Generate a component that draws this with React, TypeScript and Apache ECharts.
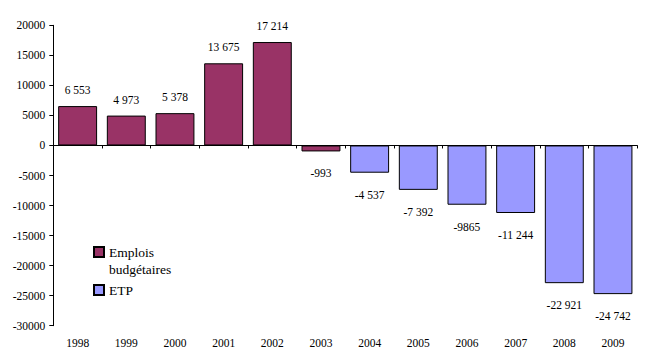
import React, { useEffect, useRef } from "react";
import * as echarts from "echarts";

const years = ["1998", "1999", "2000", "2001", "2002", "2003", "2004", "2005", "2006", "2007", "2008", "2009"];
const emploisValues: (number | null)[] = [6553, 4973, 5378, 13675, 17214, -993, null, null, null, null, null, null];
const etpValues: (number | null)[] = [null, null, null, null, null, null, -4537, -7392, -9865, -11244, -22921, -24742];
const valueLabels = ["6 553", "4 973", "5 378", "13 675", "17 214", "-993", "-4 537", "-7 392", "-9865", "-11 244", "-22 921", "-24 742"];
const seriesNames = ["Emplois budgétaires", "ETP"];

const FONT = "Liberation Serif";

function toData(vals: (number | null)[]) {
  return vals.map((v) =>
    v === null
      ? "-"
      : {
          value: v,
          label: v < 0 ? { position: "bottom", distance: 16 } : { position: "top", distance: 10 },
        }
  );
}

export default function App() {
  const ref = useRef<HTMLDivElement>(null);
  useEffect(() => {
    if (!ref.current) return;
    const chart = echarts.init(ref.current, undefined, { renderer: "svg" });
    const labelCfg = {
      show: true,
      color: "#000",
      fontFamily: FONT,
      fontSize: 11.5,
      formatter: (p: any) => valueLabels[p.dataIndex],
    };
    chart.setOption({
      animation: false,
      backgroundColor: "#fff",
      textStyle: { fontFamily: FONT },
      grid: { left: 53.3, right: 10.7, top: 25.3, bottom: 33.3, containLabel: false },
      legend: {
        orient: "vertical",
        left: 93,
        top: 226.5,
        padding: 0,
        itemWidth: 10,
        itemHeight: 10,
        itemGap: 4,
        icon: "rect",
        textStyle: { fontFamily: FONT, fontSize: 13.5, color: "#000", lineHeight: 17 },
        data: [{ name: seriesNames[0] }, { name: seriesNames[1] }],
        formatter: (n: string) => (n === seriesNames[0] ? " \nEmplois\nbudgétaires" : n),
      },
      xAxis: [
        {
          type: "category",
          data: years,
          position: "bottom",
          axisLine: { onZero: true, lineStyle: { color: "#000", width: 1 } },
          axisTick: { show: true, length: 3, lineStyle: { color: "#000" } },
          axisLabel: { show: false },
        },
        {
          type: "category",
          data: years,
          position: "bottom",
          axisLine: { show: false, onZero: false },
          axisTick: { show: false },
          axisLabel: { show: true, color: "#000", fontFamily: FONT, fontSize: 11.5, margin: 11 },
        },
      ],
      yAxis: {
        type: "value",
        min: -30000,
        max: 20000,
        interval: 5000,
        splitLine: { show: false },
        axisLine: { show: true, lineStyle: { color: "#000", width: 1 } },
        axisTick: { show: true, length: 4, lineStyle: { color: "#000" } },
        axisLabel: {
          color: "#000",
          fontFamily: FONT,
          fontSize: 11.5,
          margin: 8,
          formatter: (v: number) => String(v),
        },
      },
      series: [
        {
          name: seriesNames[0],
          type: "bar",
          xAxisIndex: 0,
          barWidth: "80%",
          barGap: "-100%",
          data: toData(emploisValues),
          itemStyle: { color: "#993366", borderColor: "#000", borderWidth: 1 },
          label: labelCfg,
        },
        {
          name: seriesNames[1],
          type: "bar",
          xAxisIndex: 0,
          barWidth: "80%",
          barGap: "-100%",
          data: toData(etpValues),
          itemStyle: { color: "#9999FF", borderColor: "#000", borderWidth: 1 },
          label: labelCfg,
        },
      ],
    });
    return () => chart.dispose();
  }, []);
  return (
    <div
      ref={ref}
      style={{ position: "fixed", left: 0, top: 0, width: 648, height: 359, background: "#fff" }}
    />
  );
}
